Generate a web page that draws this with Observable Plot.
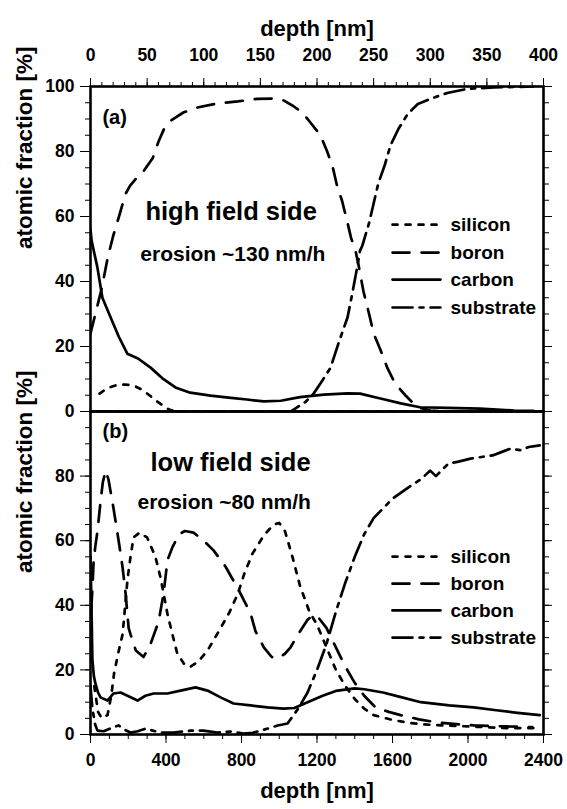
<!DOCTYPE html>
<html><head><meta charset="utf-8">
<script src="https://cdn.jsdelivr.net/npm/d3@7"></script>
<script src="https://cdn.jsdelivr.net/npm/@observablehq/plot@0.6"></script>
<style>
body{margin:0;background:#fff;}
#chart{width:567px;height:809px;position:relative;background:#fff;}
#chart svg{display:block;}
</style></head><body><div id="chart"></div>
<script>
// ---------- data ----------
const seriesNames = ["silicon", "boron", "carbon", "substrate"];
const topXTicks = [0, 50, 100, 150, 200, 250, 300, 350, 400];
const botXTicks = [0, 400, 800, 1200, 1600, 2000, 2400];
const topYTicks = [0, 20, 40, 60, 80, 100];
const botYTicks = [0, 20, 40, 60, 80];

// top panel (a): [depth nm, atomic fraction %]
const topSilicon = [[8,5.5],[15,7.2],[22,8],[30,8.3],[38,8],[45,6.8],[52,5],[58,3.3],[64,1.8],[70,0.5],[76,0],[400,0]];
const topBoron = [[0,24],[5,31],[10,38],[15,47],[20,54],[26,61],[31,67],[35,69.5],[41,72],[47,74],[55,78],[60,83],[65,87],[71,89.5],[82,92],[94,93.5],[112,94.8],[130,95.4],[147,96.2],[160,96.3],[170,95.8],[179,94],[187,92],[194,89],[203,85],[209,80],[214,75],[218,69],[222,65],[227,58],[230,53.5],[234,49.5],[237,44.5],[241,37],[246,30],[250,24],[256,19],[262,13.5],[269,8.6],[278,5],[285,2.5],[292,1],[300,0.3],[310,0],[400,0]];
const topCarbon = [[0,56],[1,52.5],[6,44.5],[10.5,35],[17.7,29],[25,23],[32.5,17.8],[42,16.3],[53,13.5],[63.5,10.2],[75,7.4],[88,5.8],[106,4.9],[124,4.2],[138,3.7],[153,3.1],[168,3.3],[185,4.4],[206,5.2],[227,5.6],[238,5.5],[256,4],[274,2.5],[291,1.3],[315,1.1],[344,0.9],[374,0.3],[391,0.2]];
const topSubstrate = [[0,0],[177,0],[190,3],[197,5.5],[203,8.6],[212,13.5],[219,21],[227,29],[231,36],[235,43.5],[238,49.5],[240,51],[246,58],[250,64],[254,70],[260,76],[265,82],[272,87],[280,91.5],[289,94.6],[300,96.2],[315,98],[333,99.3],[356,99.7],[391,100]];

// bottom panel (b)
const botSilicon = [[20,15],[40,7],[60,5],[90,6],[110,12],[125,19],[150,26],[170,31],[196,48],[212,55],[228,61],[260,62.5],[300,61],[344,55],[371,48.6],[407,37.5],[434,31],[460,25],[500,21.5],[530,21],[570,22.5],[620,26],[680,32],[735,37.7],[780,43.5],[815,49.8],[858,56],[918,61.6],[970,65],[1000,65.5],[1030,63],[1070,55],[1110,46],[1160,38],[1200,34],[1250,27],[1300,20],[1350,15],[1400,11],[1450,8],[1500,6],[1600,4.5],[1700,3.5],[1800,3],[2000,2.5],[2200,2],[2350,2]];
const botBoron = [[0,30],[5,40],[10,45],[16,53],[25,58],[37,63],[53,72],[65,78],[80,81.7],[95,79],[122,70],[149,60],[170,51.7],[186,43.6],[202,33],[212,31],[240,26],[281,24],[318,28],[361,35],[387,43.6],[408,54],[434,58],[470,62],[500,63],[546,62.5],[600,60],[652,57],[715,52],[778,45.5],[848,37.5],[874,32],[918,27],[960,24],[991,23.5],[1030,25],[1060,27],[1100,31],[1150,35.5],[1180,37],[1210,36],[1250,33],[1300,27],[1350,21],[1400,16],[1450,12],[1510,8.4],[1580,7],[1643,6],[1740,4.7],[1840,3.7],[1940,3.2],[2033,2.8],[2200,2.5],[2340,2.3]];
const botCarbon = [[0,55],[5,40],[10,23],[18,18],[26,15.8],[40,13],[53,11.5],[90,10.5],[122,12.7],[159,13],[196,12],[249,10.5],[291,12],[334,12.7],[408,12.7],[477,13.6],[556,14.6],[620,13.6],[689,11.5],[758,9.6],[848,9],[938,8.4],[1022,8],[1080,8.2],[1150,10],[1230,12],[1300,13.5],[1400,14.3],[1450,14],[1550,13],[1650,11.5],[1750,10],[1900,9],[2030,8.4],[2150,7.5],[2250,6.8],[2380,6]];
const botSubstrate = [[0,15],[10,8],[25,3],[37,1.2],[70,1],[110,2],[149,2.8],[180,1.5],[212,0.6],[250,1],[291,1.8],[330,1.2],[371,0.6],[440,0.6],[530,1.2],[598,1.2],[673,0.6],[742,0.9],[811,0.3],[860,0.5],[900,1.2],[950,2],[991,2.8],[1044,3.4],[1100,8],[1150,13],[1200,20],[1250,28],[1300,38],[1350,47],[1400,55],[1450,62],[1500,67],[1550,70],[1600,73],[1685,76.5],[1750,79],[1800,81.7],[1830,80],[1897,83.9],[1950,84.5],[2013,85.4],[2080,86],[2130,86.4],[2180,87.5],[2225,88.5],[2280,88],[2322,89],[2380,89.5]];

const panelTexts = {
  top: {tag: "(a)", title: "high field side", erosion: "erosion ~130 nm/h"},
  bot: {tag: "(b)", title: "low field side", erosion: "erosion ~80 nm/h"}
};

// ---------- styling ----------
const FONT = "'Liberation Sans', Arial, Helvetica, sans-serif";
const dashes = {silicon: "5,8", boron: "17,12", carbon: "none", substrate: "20,7,4,7"};
const LW = 2.7;
const W = 567, ML = 90, MR = 24;

function range(a, b, s) { const r = []; for (let v = a; v <= b + 1e-9; v += s) r.push(v); return r; }
function toRows(arr, name) { return arr.map(([x, y]) => ({x, y, name})); }

function legendMarks(xs, ys) {
  const marks = [];
  seriesNames.forEach((n, i) => {
    marks.push(Plot.line([{x: xs[0], y: ys[i]}, {x: xs[1], y: ys[i]}], {x: "x", y: "y", stroke: "black", strokeWidth: LW, strokeDasharray: dashes[n]}));
  });
  marks.push(Plot.text(seriesNames.map((n, i) => ({x: xs[2], y: ys[i], t: n})), {x: "x", y: "y", text: "t", textAnchor: "start", fontSize: 19, fontWeight: "bold", fill: "black"}));
  return marks;
}

function panel(opts) {
  const {data, xDomain, xTicks, xMinor, yTicks, xAnchor, height, mt, mb, texts, textPos, legendX, legendY} = opts;
  const marks = [
    Plot.axisX({anchor: xAnchor, ticks: xTicks, tickSize: 9, label: null, fontSize: 17.5, fontWeight: "bold", tickPadding: xAnchor === "top" ? 17 : 10, tickFormat: d => String(d)}),
    Plot.axisX({anchor: xAnchor, ticks: xMinor, tickSize: 5, text: null, label: null}),
    Plot.axisY({anchor: "left", ticks: yTicks, tickSize: 10, label: null, fontSize: 17.5, fontWeight: "bold", tickPadding: 6, tickFormat: d => String(d)}),
    Plot.axisY({anchor: "left", ticks: range(0, 100, 5), tickSize: 5, text: null, label: null}),
    Plot.axisY({anchor: "right", ticks: range(0, 100, 20), tickSize: 8, text: null, label: null}),
    Plot.axisY({anchor: "right", ticks: range(0, 100, 5), tickSize: 5, text: null, label: null}),
  ];
  seriesNames.forEach((n, i) => {
    marks.push(Plot.line(toRows(data[i], n), {x: "x", y: "y", stroke: "black", strokeWidth: LW, strokeDasharray: dashes[n], clip: true}));
  });
  marks.push(Plot.frame({stroke: "black", strokeWidth: 2.6}));
  marks.push(Plot.text([texts.tag], {x: textPos.tag[0], y: textPos.tag[1], text: d => d, textAnchor: "start", fontSize: 20, fontWeight: "bold"}));
  marks.push(Plot.text([texts.title], {x: textPos.title[0], y: textPos.title[1], text: d => d, textAnchor: "start", fontSize: 25.5, fontWeight: "bold"}));
  marks.push(Plot.text([texts.erosion], {x: textPos.erosion[0], y: textPos.erosion[1], text: d => d, textAnchor: "start", fontSize: 21, fontWeight: "bold"}));
  marks.push(...legendMarks(legendX, legendY));
  marks.push(Plot.text(["atomic fraction [%]"], {frameAnchor: "left", text: d => d, rotate: -90, dx: -66, fontSize: 22.5, fontWeight: "bold"}));
  if (xAnchor === "top") {
    marks.push(Plot.text(["depth [nm]"], {frameAnchor: "top", text: d => d, dy: -66, fontSize: 22, fontWeight: "bold"}));
  } else {
    marks.push(Plot.text(["depth [nm]"], {frameAnchor: "bottom", text: d => d, dy: 63, fontSize: 22, fontWeight: "bold"}));
  }
  return Plot.plot({
    width: W, height, marginLeft: ML, marginRight: MR, marginTop: mt, marginBottom: mb,
    style: {fontFamily: FONT, fontWeight: "bold", color: "black", background: "white", overflow: "visible"},
    x: {domain: xDomain},
    y: {domain: [0, 100]},
    marks
  });
}

const topPlot = panel({
  data: [topSilicon, topBoron, topCarbon, topSubstrate],
  xDomain: [0, 400], xTicks: topXTicks, xMinor: range(0, 400, 10), yTicks: topYTicks,
  xAnchor: "top", height: 411, mt: 86, mb: 0,
  texts: panelTexts.top,
  textPos: {tag: [10.5, 90.5], title: [48.5, 61.5], erosion: [44, 48.3]},
  legendX: [266.7, 309, 317.9], legendY: [57.5, 48.9, 40.6, 32]
});
const botPlot = panel({
  data: [botSilicon, botBoron, botCarbon, botSubstrate],
  xDomain: [0, 2400], xTicks: botXTicks, xMinor: range(0, 2400, 100), yTicks: botYTicks,
  xAnchor: "bottom", height: 398, mt: 0, mb: 75,
  texts: panelTexts.bot,
  textPos: {tag: [63.6, 93.8], title: [318, 84.2], erosion: [249, 71.8]},
  legendX: [1600, 1854, 1907], legendY: [55.1, 46.7, 38.4, 30]
});
const chart = document.getElementById("chart");
chart.appendChild(topPlot);
chart.appendChild(botPlot);
</script>
</body></html>
